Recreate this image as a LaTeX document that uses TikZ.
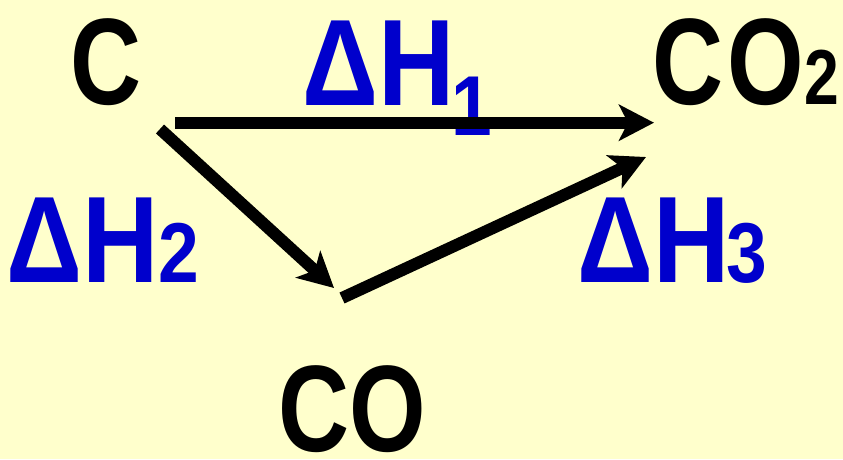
\documentclass[tikz,border=0pt]{standalone}
\usepackage{fontspec}
\setmainfont{Liberation Sans}[FakeStretch=0.8]
\newfontfamily\deltafont{Liberation Sans}[FakeStretch=0.86]
\usepackage{tikz}
\usetikzlibrary{arrows.meta}
\definecolor{SlideYellow}{RGB}{255,255,204}
\definecolor{DeltaBlue}{RGB}{0,0,204}
\newcommand{\subdigit}[1]{{\fontsize{85}{85}\selectfont #1}}

\begin{document}
\begin{tikzpicture}[x=1pt, y=-1pt,
    species/.style={font=\fontsize{123}{123}\selectfont\bfseries, inner sep=0pt, anchor=base west},
    enthalpy/.style={species, font=\fontsize{123}{123}\deltafont\bfseries, text=DeltaBlue},
    reaction/.style={line width=12pt, -{Stealth[length=35pt, width=36pt, inset=9pt]}}]
    \fill[SlideYellow] (0,0) rectangle (843,459);
    \useasboundingbox (0,0) rectangle (843,459);
    % species
    \node[species] (c) at (70,104) {C};
    \node[species] (co2) at (652.7,104) {C\kern4pt O{\fontsize{78}{78}\selectfont 2}};
    \node[species] (co) at (278.7,451) {CO};
    % enthalpy changes
    \node[enthalpy] (dh1) at (302,105) {ΔH\kern-3pt\raisebox{-30pt}{\subdigit{1}}};
    \node[enthalpy] (dh2) at (6,282) {ΔH\subdigit{2}};
    \node[enthalpy] (dh3) at (577,282) {ΔH\kern-3pt\subdigit{3}};
    % arrow ends
    \coordinate (c-right) at (175,122.7);
    \coordinate (co2-left) at (654,122.7);
    \coordinate (c-down) at (160,129);
    \coordinate (co-up) at (334,288);
    \coordinate (co-right) at (342,298);
    \coordinate (co2-down) at (646,157);
    \draw[reaction] (c-right) -- (co2-left);
    \draw[reaction] (c-down) -- (co-up);
    \draw[reaction] (co-right) -- (co2-down);
\end{tikzpicture}
\end{document}
